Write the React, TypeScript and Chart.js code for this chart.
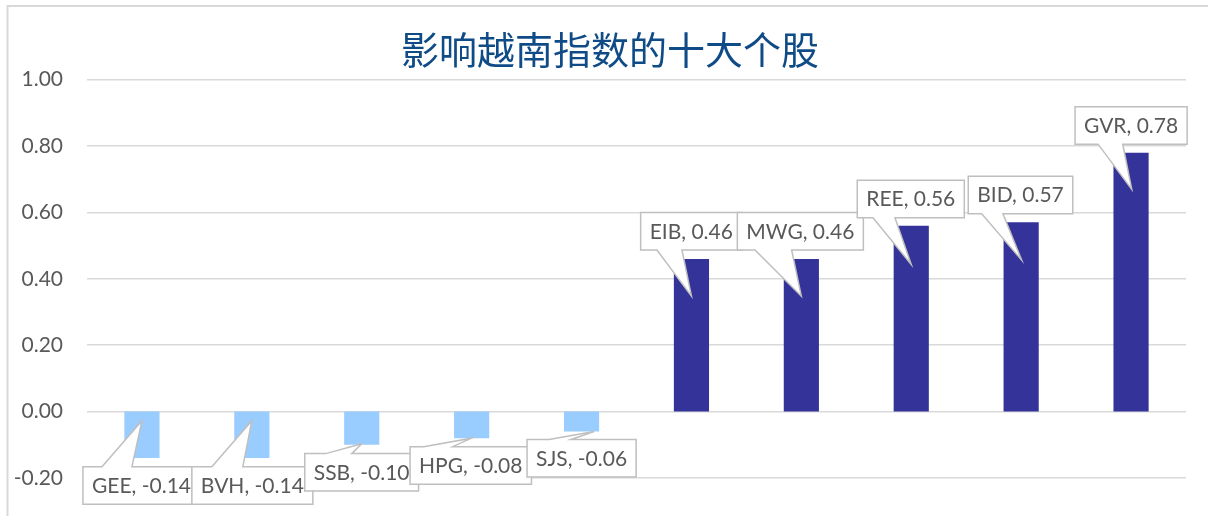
import React, { useEffect, useRef } from "react";
import { Chart, registerables } from "chart.js";

Chart.register(...registerables);

const categories = ["GEE", "BVH", "SSB", "HPG", "SJS", "EIB", "MWG", "REE", "BID", "GVR"];
const values = [-0.14, -0.14, -0.1, -0.08, -0.06, 0.46, 0.46, 0.56, 0.57, 0.78];
const yMin = -0.2;
const yMax = 1.0;
const yStep = 0.2;
const titleText = "影响越南指数的十大个股";

// Callout placement relative to each bar's centre x and value end y:
// [boxDx, boxDy, tipDx, tipDy, pointerBase1Dx, pointerBase2Dx]
const calloutLayout: number[][] = [
  [-59, 8.6, 0, -37.4, -40, -10],
  [-60, 8.6, 0, -37.4, -40, -9],
  [-57, 8.8, 0, -1, -36, -10],
  [-61.6, 8.5, 0, 0, -48, -19],
  [-54.5, 8, 12.5, 0, -32.5, -10.5],
  [-50.8, -46.4, 0, 37.3, -34.5, -9.5],
  [-64, -46.4, 0, 37.3, -46.4, -9.7],
  [-54, -45.5, 0, 38.8, -38.3, -16.3],
  [-52.9, -46.2, 0.5, 37.8, -39.5, -18.2],
  [-56, -46, 0.7, 36.7, -33, -8.3],
];

const fmt = (v: number) => (Math.abs(v) < 1e-9 ? 0 : v).toFixed(2);

const borderPlugin = {
  id: "outerBorder",
  beforeDraw(chart: any) {
    const ctx = chart.ctx;
    ctx.save();
    ctx.strokeStyle = "#D9D9D9";
    ctx.lineWidth = 2;
    ctx.beginPath();
    ctx.moveTo(7.5, chart.height + 10);
    ctx.lineTo(7.5, 6);
    ctx.lineTo(chart.width + 10, 6);
    ctx.stroke();
    ctx.restore();
  },
};

const calloutPlugin = {
  id: "callouts",
  afterDatasetsDraw(chart: any) {
    const ctx = chart.ctx;
    const meta = chart.getDatasetMeta(0);
    const h = 37.5;
    const pad = 9;
    ctx.save();
    ctx.font = "21px Lato";
    meta.data.forEach((bar: any, i: number) => {
      const v = values[i];
      const lay = calloutLayout[i];
      const text = `${categories[i]}, ${fmt(v)}`;
      const w = ctx.measureText(text).width + pad * 2;
      const cx = bar.x;
      const cy = bar.y;
      const left = cx + lay[0];
      const top = cy + lay[1];
      const right = left + w;
      const bottom = top + h;
      const tipX = cx + lay[2];
      const tipY = cy + lay[3];
      const b1 = cx + lay[4];
      const b2 = cx + lay[5];
      ctx.beginPath();
      if (v < 0) {
        ctx.moveTo(left, top);
        ctx.lineTo(b1, top);
        ctx.lineTo(tipX, tipY);
        ctx.lineTo(b2, top);
        ctx.lineTo(right, top);
        ctx.lineTo(right, bottom);
        ctx.lineTo(left, bottom);
      } else {
        ctx.moveTo(left, top);
        ctx.lineTo(right, top);
        ctx.lineTo(right, bottom);
        ctx.lineTo(b2, bottom);
        ctx.lineTo(tipX, tipY);
        ctx.lineTo(b1, bottom);
        ctx.lineTo(left, bottom);
      }
      ctx.closePath();
      ctx.fillStyle = "#FFFFFF";
      ctx.fill();
      ctx.strokeStyle = "#BFBFBF";
      ctx.lineWidth = 1.5;
      ctx.stroke();
      ctx.fillStyle = "#595959";
      ctx.textAlign = "left";
      ctx.textBaseline = "alphabetic";
      ctx.fillText(text, left + pad, top + h / 2 + 7.5);
    });
    ctx.restore();
  },
};

export default function App() {
  const ref = useRef<HTMLCanvasElement | null>(null);
  useEffect(() => {
    if (!ref.current) return;
    const chart = new Chart(ref.current, {
      type: "bar",
      data: {
        labels: categories,
        datasets: [
          {
            data: values,
            backgroundColor: values.map((v) => (v < 0 ? "#99CCFF" : "#333399")),
            barPercentage: 0.32,
            categoryPercentage: 1,
          },
        ],
      },
      options: {
        animation: false,
        responsive: true,
        maintainAspectRatio: false,
        layout: { padding: { left: 12, right: 0, top: 0, bottom: 38 } },
        plugins: {
          legend: { display: false },
          tooltip: { enabled: false },
          title: {
            display: true,
            text: titleText,
            color: "#0F4B87",
            font: { family: "'Noto Sans CJK SC'", size: 38, weight: "normal" },
            padding: { top: 27, bottom: 7 },
          },
        },
        scales: {
          x: { display: false },
          y: {
            min: yMin,
            max: yMax,
            border: { display: false },
            grid: { color: "#D9D9D9", lineWidth: 1.5, drawTicks: false },
            ticks: {
              stepSize: yStep,
              padding: 24,
              color: "#595959",
              font: { family: "Lato", size: 21 },
              callback: (v: any) => fmt(Number(v)),
            },
            afterFit: (scale: any) => {
              scale.width = 75;
            },
          },
          yRightSpace: {
            position: "right",
            min: yMin,
            max: yMax,
            border: { display: false },
            grid: { display: false, drawTicks: false },
            ticks: { display: false },
            afterFit: (scale: any) => {
              scale.width = 22;
            },
          },
        },
      },
      plugins: [borderPlugin, calloutPlugin],
    });
    return () => chart.destroy();
  }, []);
  return (
    <div style={{ position: "fixed", left: 0, top: 0, width: 1208, height: 516, background: "#fff" }}>
      <canvas ref={ref} />
    </div>
  );
}
